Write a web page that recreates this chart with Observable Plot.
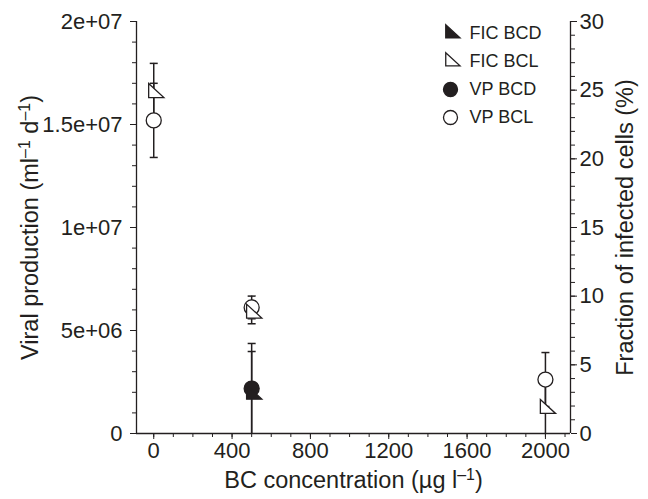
<!DOCTYPE html>
<html><head><meta charset="utf-8">
<script src="https://cdn.jsdelivr.net/npm/d3@7"></script>
<script src="https://cdn.jsdelivr.net/npm/@observablehq/plot@0.6"></script>
<style>
body{margin:0;background:#fff}
#chart{font-family:"Liberation Sans",Arial,sans-serif}
</style>
</head><body><div id="chart"></div>
<script>
// ---- data ----
const conc = [0, 500, 2000];                 // BC concentration (µg l-1), BCL series
const vpBCL = [1.52e7, 6.12e6, 2.62e6];      // viral production, light
const vpBCLerr = [1.8e6, 0.55e6, 1.31e6];
const ficBCL = [24.8, 8.74, 1.8];            // fraction of infected cells (%), light
const ficBCLerr = [2.15, 0.75, 1.8];
const concBCD = [500];                       // dark treatment
const vpBCD = [2.18e6];
const vpBCDerr = [2.19e6];
const ficBCD = [2.84];
const ficBCDerr = [3.13];

const xTicks = [0, 400, 800, 1200, 1600, 2000];
const yLeftTicks = [0, 5e6, 1e7, 1.5e7, 2e7];
const yRightTicks = [0, 5, 10, 15, 20, 25, 30];
const legendLabels = ["FIC BCD", "FIC BCL", "VP BCD", "VP BCL"];
const xTitle = "BC concentration (µg l⁻¹)";
const yLeftTitle = "Viral production (ml⁻¹ d⁻¹)";
const yRightTitle = "Fraction of infected cells (%)";

// ---- helpers ----
const yMax = 2e7, rMax = 30, k = yMax / rMax;
const xDomain = [-88, 2128];
const ink = "#231f20";

const triSym = {draw(ctx, size) {
  const r = Math.sqrt(size / Math.PI), w = r * 1.9, h = r * 1.75;
  ctx.moveTo(-w / 3, -2 * h / 3); ctx.lineTo(-w / 3, h / 3); ctx.lineTo(2 * w / 3, h / 3); ctx.closePath();
}};
const capSym = {draw(ctx, size) {
  const r = Math.sqrt(size / Math.PI);
  ctx.moveTo(-r, 0); ctx.lineTo(r, 0);
}};

function rows(xs, vals, errs, scale, kind) {
  return xs.map((x, i) => ({x, kind, y: vals[i] * scale,
    lo: Math.max(0, vals[i] - errs[i]) * scale, hi: (vals[i] + errs[i]) * scale,
    loCap: vals[i] - errs[i] > 0}));
}
const vpL = rows(conc, vpBCL, vpBCLerr, 1, "VP BCL");
const vpD = rows(concBCD, vpBCD, vpBCDerr, 1, "VP BCD");
const fiL = rows(conc, ficBCL, ficBCLerr, k, "FIC BCL");
const fiD = rows(concBCD, ficBCD, ficBCDerr, k, "FIC BCD");
const all = [...vpL, ...vpD, ...fiL, ...fiD];
const caps = [...all.map(d => ({x: d.x, y: d.hi})), ...all.filter(d => d.loCap).map(d => ({x: d.x, y: d.lo}))];

const fmtLeft = d => d === 0 ? "0" : d.toExponential().replace(/e\+(\d)$/, "e+0$1");
const minorX = d3.range(0, 2101, 100);
const minorY = d3.range(0, yMax + 1, 1e6);
const minorR = d3.range(0, rMax + 1, 1).map(v => v * k);

const legendSpec = [
  {symbol: triSym, fill: ink, r: 7.5},
  {symbol: triSym, fill: "white", r: 7.5},
  {symbol: "circle", fill: ink, r: 7},
  {symbol: "circle", fill: "white", r: 7}
];
const legendMarks = legendLabels.flatMap((lab, i) => [
  Plot.dot([lab], {frameAnchor: "top-left", dx: 314, dy: 12 + 28 * i, symbol: legendSpec[i].symbol,
    r: legendSpec[i].r, fill: legendSpec[i].fill, stroke: ink, strokeWidth: 1.3}),
  Plot.text([lab], {frameAnchor: "top-left", dx: 333, dy: 12 + 28 * i, text: d => d,
    textAnchor: "start", lineAnchor: "middle", fontSize: 18, fill: ink})
]);

const chart = Plot.plot({
  width: 648, height: 499,
  marginLeft: 136, marginRight: 78, marginTop: 21, marginBottom: 66,
  x: {domain: xDomain},
  y: {domain: [0, yMax]},
  style: {fontFamily: '"Liberation Sans", Arial, sans-serif', fontSize: "22px", color: ink, background: "white"},
  marks: [
    Plot.axisX(minorX, {tickSize: 4, tickFormat: () => "", label: null, stroke: ink}),
    Plot.axisX(xTicks, {tickSize: 6, tickPadding: 3, tickFormat: d => String(d), label: null, stroke: ink, fill: ink, fontSize: 22}),
    Plot.axisY(minorY, {anchor: "left", tickSize: 4, tickFormat: () => "", label: null, stroke: ink}),
    Plot.axisY(yLeftTicks, {anchor: "left", tickSize: 6, tickPadding: 8, tickFormat: fmtLeft, label: null, stroke: ink, fill: ink, fontSize: 22}),
    Plot.axisY(minorR, {anchor: "right", tickSize: 4, tickFormat: () => "", label: null, stroke: ink}),
    Plot.axisY(yRightTicks.map(v => v * k), {anchor: "right", tickSize: 6, tickPadding: 3, tickFormat: d => String(Math.round(d / k)), label: null, stroke: ink, fill: ink, fontSize: 22}),
    Plot.ruleX(xDomain, {stroke: ink, strokeWidth: 1.3}),
    Plot.ruleY([0], {stroke: ink, strokeWidth: 1.3}),
    Plot.ruleX(all, {x: "x", y1: "lo", y2: "hi", stroke: ink, strokeWidth: 1.5}),
    Plot.dot(caps, {x: "x", y: "y", symbol: capSym, r: 4, stroke: ink, strokeWidth: 1.5}),
    Plot.dot(vpL, {x: "x", y: "y", r: 7.5, fill: "white", stroke: ink, strokeWidth: 1.3}),
    Plot.dot(vpD, {x: "x", y: "y", r: 7.5, fill: ink, stroke: ink, strokeWidth: 1.3}),
    Plot.dot(fiL, {x: "x", y: "y", symbol: triSym, r: 8, fill: "white", stroke: ink, strokeWidth: 1.3}),
    Plot.dot(fiD, {x: "x", y: "y", symbol: triSym, r: 8, fill: ink, stroke: ink, strokeWidth: 1.3}),
    ...legendMarks,
    Plot.text([yLeftTitle], {frameAnchor: "left", dx: -106, rotate: -90, text: d => d, textAnchor: "middle", lineAnchor: "middle", fontSize: 23.5, fill: ink}),
    Plot.text([yRightTitle], {frameAnchor: "right", dx: 55, rotate: -90, text: d => d, textAnchor: "middle", lineAnchor: "middle", fontSize: 23.5, fill: ink}),
    Plot.text([xTitle], {frameAnchor: "bottom", dy: 47, text: d => d, textAnchor: "middle", lineAnchor: "middle", fontSize: 23.5, fill: ink})
  ]
});

// typeset the "⁻¹" units as real superscripts (en dash + 1), like the original
const NS = "http://www.w3.org/2000/svg";
chart.querySelectorAll("text").forEach(t => {
  const s = t.textContent;
  if (!s.includes("⁻¹")) return;
  const parts = s.split("⁻¹");
  t.textContent = "";
  parts.forEach((p, i) => {
    if (p) { const a = document.createElementNS(NS, "tspan"); a.textContent = p; t.appendChild(a); }
    if (i < parts.length - 1) {
      const sup = document.createElementNS(NS, "tspan");
      sup.textContent = "–1";
      sup.setAttribute("font-size", "0.68em");
      sup.setAttribute("baseline-shift", "48%");
      t.appendChild(sup);
    }
  });
});
document.getElementById("chart").appendChild(chart);
</script>
</body></html>
